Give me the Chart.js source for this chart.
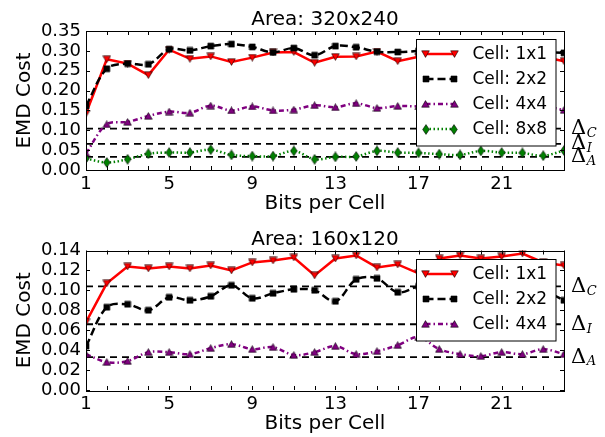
<!DOCTYPE html>
<html>
<head>
<meta charset="utf-8">
<script src="https://cdn.jsdelivr.net/npm/chart.js@4.4.0/dist/chart.umd.min.js"></script>
<style>
  html, body { margin: 0; padding: 0; background: #fff; }
  canvas { display: block; }
</style>
</head>
<body>
<canvas id="chartTop" width="605" height="218"></canvas>
<canvas id="chartBottom" width="605" height="219"></canvas>
<script>
// bits per cell (x) and the labelled ticks
const bits = [1, 2, 3, 4, 5, 6, 7, 8, 9, 10, 11, 12, 13, 14, 15, 16, 17, 18, 19, 20, 21, 22, 23, 24];
const xTickLabels = [1, 5, 9, 13, 17, 21];

// reference thresholds (same in both panels)
const deltaC = 0.104;
const deltaI = 0.066;
const deltaA = 0.033;

// Area: 320x240
const area320Cell1 = [0.142, 0.279, 0.268, 0.239, 0.303, 0.280, 0.286, 0.272, 0.283, 0.296, 0.297, 0.270, 0.285, 0.286, 0.298, 0.274, 0.285, 0.290, 0.295, 0.288, 0.292, 0.290, 0.285, 0.274];
const area320Cell2 = [0.161, 0.255, 0.268, 0.266, 0.304, 0.301, 0.312, 0.317, 0.310, 0.296, 0.307, 0.289, 0.312, 0.309, 0.298, 0.297, 0.300, 0.305, 0.298, 0.303, 0.300, 0.306, 0.298, 0.295];
const area320Cell4 = [0.042, 0.115, 0.121, 0.136, 0.147, 0.144, 0.162, 0.150, 0.160, 0.150, 0.152, 0.163, 0.158, 0.168, 0.156, 0.161, 0.160, 0.158, 0.162, 0.156, 0.160, 0.157, 0.160, 0.151];
const area320Cell8 = [0.029, 0.019, 0.027, 0.041, 0.044, 0.044, 0.051, 0.038, 0.035, 0.035, 0.048, 0.027, 0.033, 0.034, 0.048, 0.044, 0.043, 0.040, 0.038, 0.048, 0.044, 0.043, 0.036, 0.049];

// Area: 160x120
const area160Cell1 = [0.068, 0.107, 0.124, 0.122, 0.124, 0.122, 0.125, 0.120, 0.128, 0.130, 0.133, 0.115, 0.132, 0.135, 0.123, 0.126, 0.117, 0.132, 0.135, 0.132, 0.134, 0.137, 0.128, 0.125];
const area160Cell2 = [0.044, 0.083, 0.086, 0.080, 0.093, 0.090, 0.094, 0.105, 0.092, 0.097, 0.101, 0.100, 0.089, 0.111, 0.112, 0.098, 0.104, 0.106, 0.108, 0.103, 0.107, 0.105, 0.100, 0.090];
const area160Cell4 = [0.036, 0.028, 0.029, 0.038, 0.038, 0.036, 0.042, 0.046, 0.041, 0.043, 0.035, 0.038, 0.044, 0.036, 0.039, 0.045, 0.053, 0.041, 0.036, 0.034, 0.038, 0.036, 0.041, 0.036];

const yTicksTop = [0.00, 0.05, 0.10, 0.15, 0.20, 0.25, 0.30, 0.35];
const yTicksBottom = [0.00, 0.02, 0.04, 0.06, 0.08, 0.10, 0.12, 0.14];

const FONT = "'DejaVu Sans', sans-serif";

// small marker sprites, matplotlib style (coloured face, thin black edge)
function marker(kind, color) {
  const sizes = { down: [9, 8], up: [9, 8], square: [8, 8], diamond: [8, 11] };
  const [w, h] = sizes[kind];
  const c = document.createElement("canvas");
  c.width = w; c.height = h;
  const g = c.getContext("2d");
  g.beginPath();
  if (kind === "down") { g.moveTo(0.7, 0.8); g.lineTo(8.3, 0.8); g.lineTo(4.5, 7.4); }
  if (kind === "up") { g.moveTo(0.7, 7.2); g.lineTo(8.3, 7.2); g.lineTo(4.5, 0.6); }
  if (kind === "square") { g.rect(1, 1, 6, 6); }
  if (kind === "diamond") { g.moveTo(4, 0.6); g.lineTo(7.3, 5.5); g.lineTo(4, 10.4); g.lineTo(0.7, 5.5); }
  g.closePath();
  g.fillStyle = color; g.fill();
  g.lineWidth = 0.6; g.strokeStyle = "#000"; g.stroke();
  return c;
}

const styles = {
  "Cell: 1x1": { color: "#ff0000", dash: [], tension: 0, point: marker("down", "#ff0000") },
  "Cell: 2x2": { color: "#000000", dash: [8, 4], tension: 0.35, point: marker("square", "#000000") },
  "Cell: 4x4": { color: "#800080", dash: [5, 3, 1.5, 3], tension: 0.35, point: marker("up", "#800080") },
  "Cell: 8x8": { color: "#008000", dash: [1.5, 2.5], tension: 0.35, point: marker("diamond", "#008000") }
};

function seriesDataset(label, values, order) {
  const s = styles[label];
  return {
    label: label,
    data: values.map((v, i) => ({ x: bits[i], y: v })),
    borderColor: s.color,
    borderWidth: 2.5,
    borderDash: s.dash,
    tension: s.tension,
    pointStyle: s.point,
    pointRadius: 4,
    clip: 0,
    order: order,
    isSeries: true
  };
}

function refDataset(value) {
  return {
    label: "ref",
    data: [{ x: bits[0], y: value }, { x: bits[bits.length - 1], y: value }],
    borderColor: "#000",
    borderWidth: 1.8,
    borderDash: [7, 5],
    pointRadius: 0,
    clip: 0,
    order: 10
  };
}

// box, inward ticks, threshold labels and framed legend
const decor = {
  id: "decor",
  afterDatasetsDraw(chart) {
    const { ctx, chartArea: a } = chart;
    const xs = chart.scales.x, ys = chart.scales.y;
    ctx.save();
    ctx.strokeStyle = "#000";
    ctx.lineWidth = 1;
    ctx.beginPath();
    xs.ticks.forEach(t => {
      const px = Math.round(xs.getPixelForValue(t.value)) + 0.5;
      ctx.moveTo(px, a.bottom); ctx.lineTo(px, a.bottom - 4);
      ctx.moveTo(px, a.top); ctx.lineTo(px, a.top + 4);
    });
    ys.ticks.forEach(t => {
      const py = Math.round(ys.getPixelForValue(t.value)) + 0.5;
      ctx.moveTo(a.left, py); ctx.lineTo(a.left + 4, py);
      ctx.moveTo(a.right, py); ctx.lineTo(a.right - 4, py);
    });
    ctx.stroke();
    ctx.strokeRect(Math.round(a.left) + 0.5, Math.round(a.top) + 0.5, Math.round(a.right - a.left), Math.round(a.bottom - a.top));
    ctx.restore();
  },
  afterDraw(chart) {
    const { ctx, chartArea: a } = chart;
    const ys = chart.scales.y;
    ctx.save();
    // threshold labels
    [[deltaC, "C"], [deltaI, "I"], [deltaA, "A"]].forEach(([v, sub]) => {
      const py = ys.getPixelForValue(v);
      ctx.fillStyle = "#000";
      ctx.textBaseline = "middle";
      ctx.textAlign = "left";
      ctx.font = "21px 'DejaVu Serif', serif";
      ctx.fillText("\u0394", a.right + 7, py);
      const w = ctx.measureText("\u0394").width;
      ctx.font = "italic 13px 'DejaVu Serif', serif";
      ctx.fillText(sub, a.right + 7 + w + 0.5, py + 5);
    });
    // legend
    const items = chart.data.datasets.filter(d => d.isSeries);
    const boxW = 139.5;
    const rowH = 25;
    const boxH = 14.5 + (items.length - 1) * rowH + 17;
    const bx = Math.round(a.right - 8.5 - boxW) + 0.5;
    const by = Math.round(a.top + 8) + 0.5;
    ctx.fillStyle = "#fff";
    ctx.fillRect(bx, by, boxW, boxH);
    ctx.strokeStyle = "#000";
    ctx.lineWidth = 1;
    ctx.strokeRect(bx, by, boxW, boxH);
    items.forEach((d, i) => {
      const cy = by + 14.5 + i * rowH;
      const x0 = bx + 9, x1 = bx + 37.5;
      ctx.save();
      ctx.strokeStyle = d.borderColor;
      ctx.lineWidth = d.borderWidth;
      ctx.setLineDash(d.borderDash);
      ctx.beginPath(); ctx.moveTo(x0, cy); ctx.lineTo(x1, cy); ctx.stroke();
      ctx.setLineDash([]);
      const img = d.pointStyle;
      ctx.drawImage(img, Math.round(x0 - img.width / 2), Math.round(cy - img.height / 2));
      ctx.drawImage(img, Math.round(x1 - img.width / 2), Math.round(cy - img.height / 2));
      ctx.restore();
      ctx.fillStyle = "#000";
      ctx.font = "17px " + FONT;
      ctx.textBaseline = "middle";
      ctx.textAlign = "left";
      ctx.fillText(d.label, bx + 56, cy + 1);
    });
    ctx.restore();
  }
};

function makeChart(id, title, datasets, yTicks, titlePad, xHeight, xTitlePad) {
  return new Chart(document.getElementById(id), {
    type: "line",
    data: { datasets: datasets },
    options: {
      responsive: false,
      animation: false,
      layout: { padding: { left: 0, right: 41, top: 0, bottom: 0 } },
      plugins: {
        legend: { display: false },
        tooltip: { enabled: false },
        title: {
          display: true,
          text: title,
          fullSize: false,
          color: "#000",
          font: { family: FONT, size: 20, weight: "normal", lineHeight: 1.0 },
          padding: titlePad
        }
      },
      scales: {
        x: {
          type: "linear",
          min: bits[0],
          max: bits[bits.length - 1],
          grid: { display: false, drawTicks: false },
          border: { display: false },
          ticks: {
            stepSize: 1,
            autoSkip: false,
            maxRotation: 0,
            padding: 3.5,
            color: "#000",
            font: { family: FONT, size: 18 },
            callback: v => (xTickLabels.includes(v) ? String(v) : "")
          },
          title: {
            display: true,
            text: "Bits per Cell",
            color: "#000",
            font: { family: FONT, size: 20 },
            padding: { top: 0, bottom: xTitlePad }
          },
          afterFit: s => { s.height = xHeight; }
        },
        y: {
          min: yTicks[0],
          max: yTicks[yTicks.length - 1],
          grid: { display: false, drawTicks: false },
          border: { display: false },
          ticks: {
            autoSkip: false,
            padding: 5,
            color: "#000",
            font: { family: FONT, size: 18 },
            callback: v => v.toFixed(2)
          },
          afterBuildTicks: s => { s.ticks = yTicks.map(v => ({ value: v })); },
          title: {
            display: true,
            text: "EMD Cost",
            color: "#000",
            font: { family: FONT, size: 20 },
            padding: { top: 13, bottom: 0 }
          },
          afterFit: s => { s.width = 86; }
        }
      }
    },
    plugins: [decor]
  });
}

makeChart("chartTop", "Area: 320x240", [
  seriesDataset("Cell: 1x1", area320Cell1, 4),
  seriesDataset("Cell: 2x2", area320Cell2, 3),
  seriesDataset("Cell: 4x4", area320Cell4, 2),
  seriesDataset("Cell: 8x8", area320Cell8, 1),
  refDataset(deltaC), refDataset(deltaI), refDataset(deltaA)
], yTicksTop, { top: 10, bottom: 1 }, 48, 2);

makeChart("chartBottom", "Area: 160x120", [
  seriesDataset("Cell: 1x1", area160Cell1, 4),
  seriesDataset("Cell: 2x2", area160Cell2, 3),
  seriesDataset("Cell: 4x4", area160Cell4, 2),
  refDataset(deltaC), refDataset(deltaI), refDataset(deltaA)
], yTicksBottom, { top: 12, bottom: 0.5 }, 47, 1);
</script>
</body>
</html>
